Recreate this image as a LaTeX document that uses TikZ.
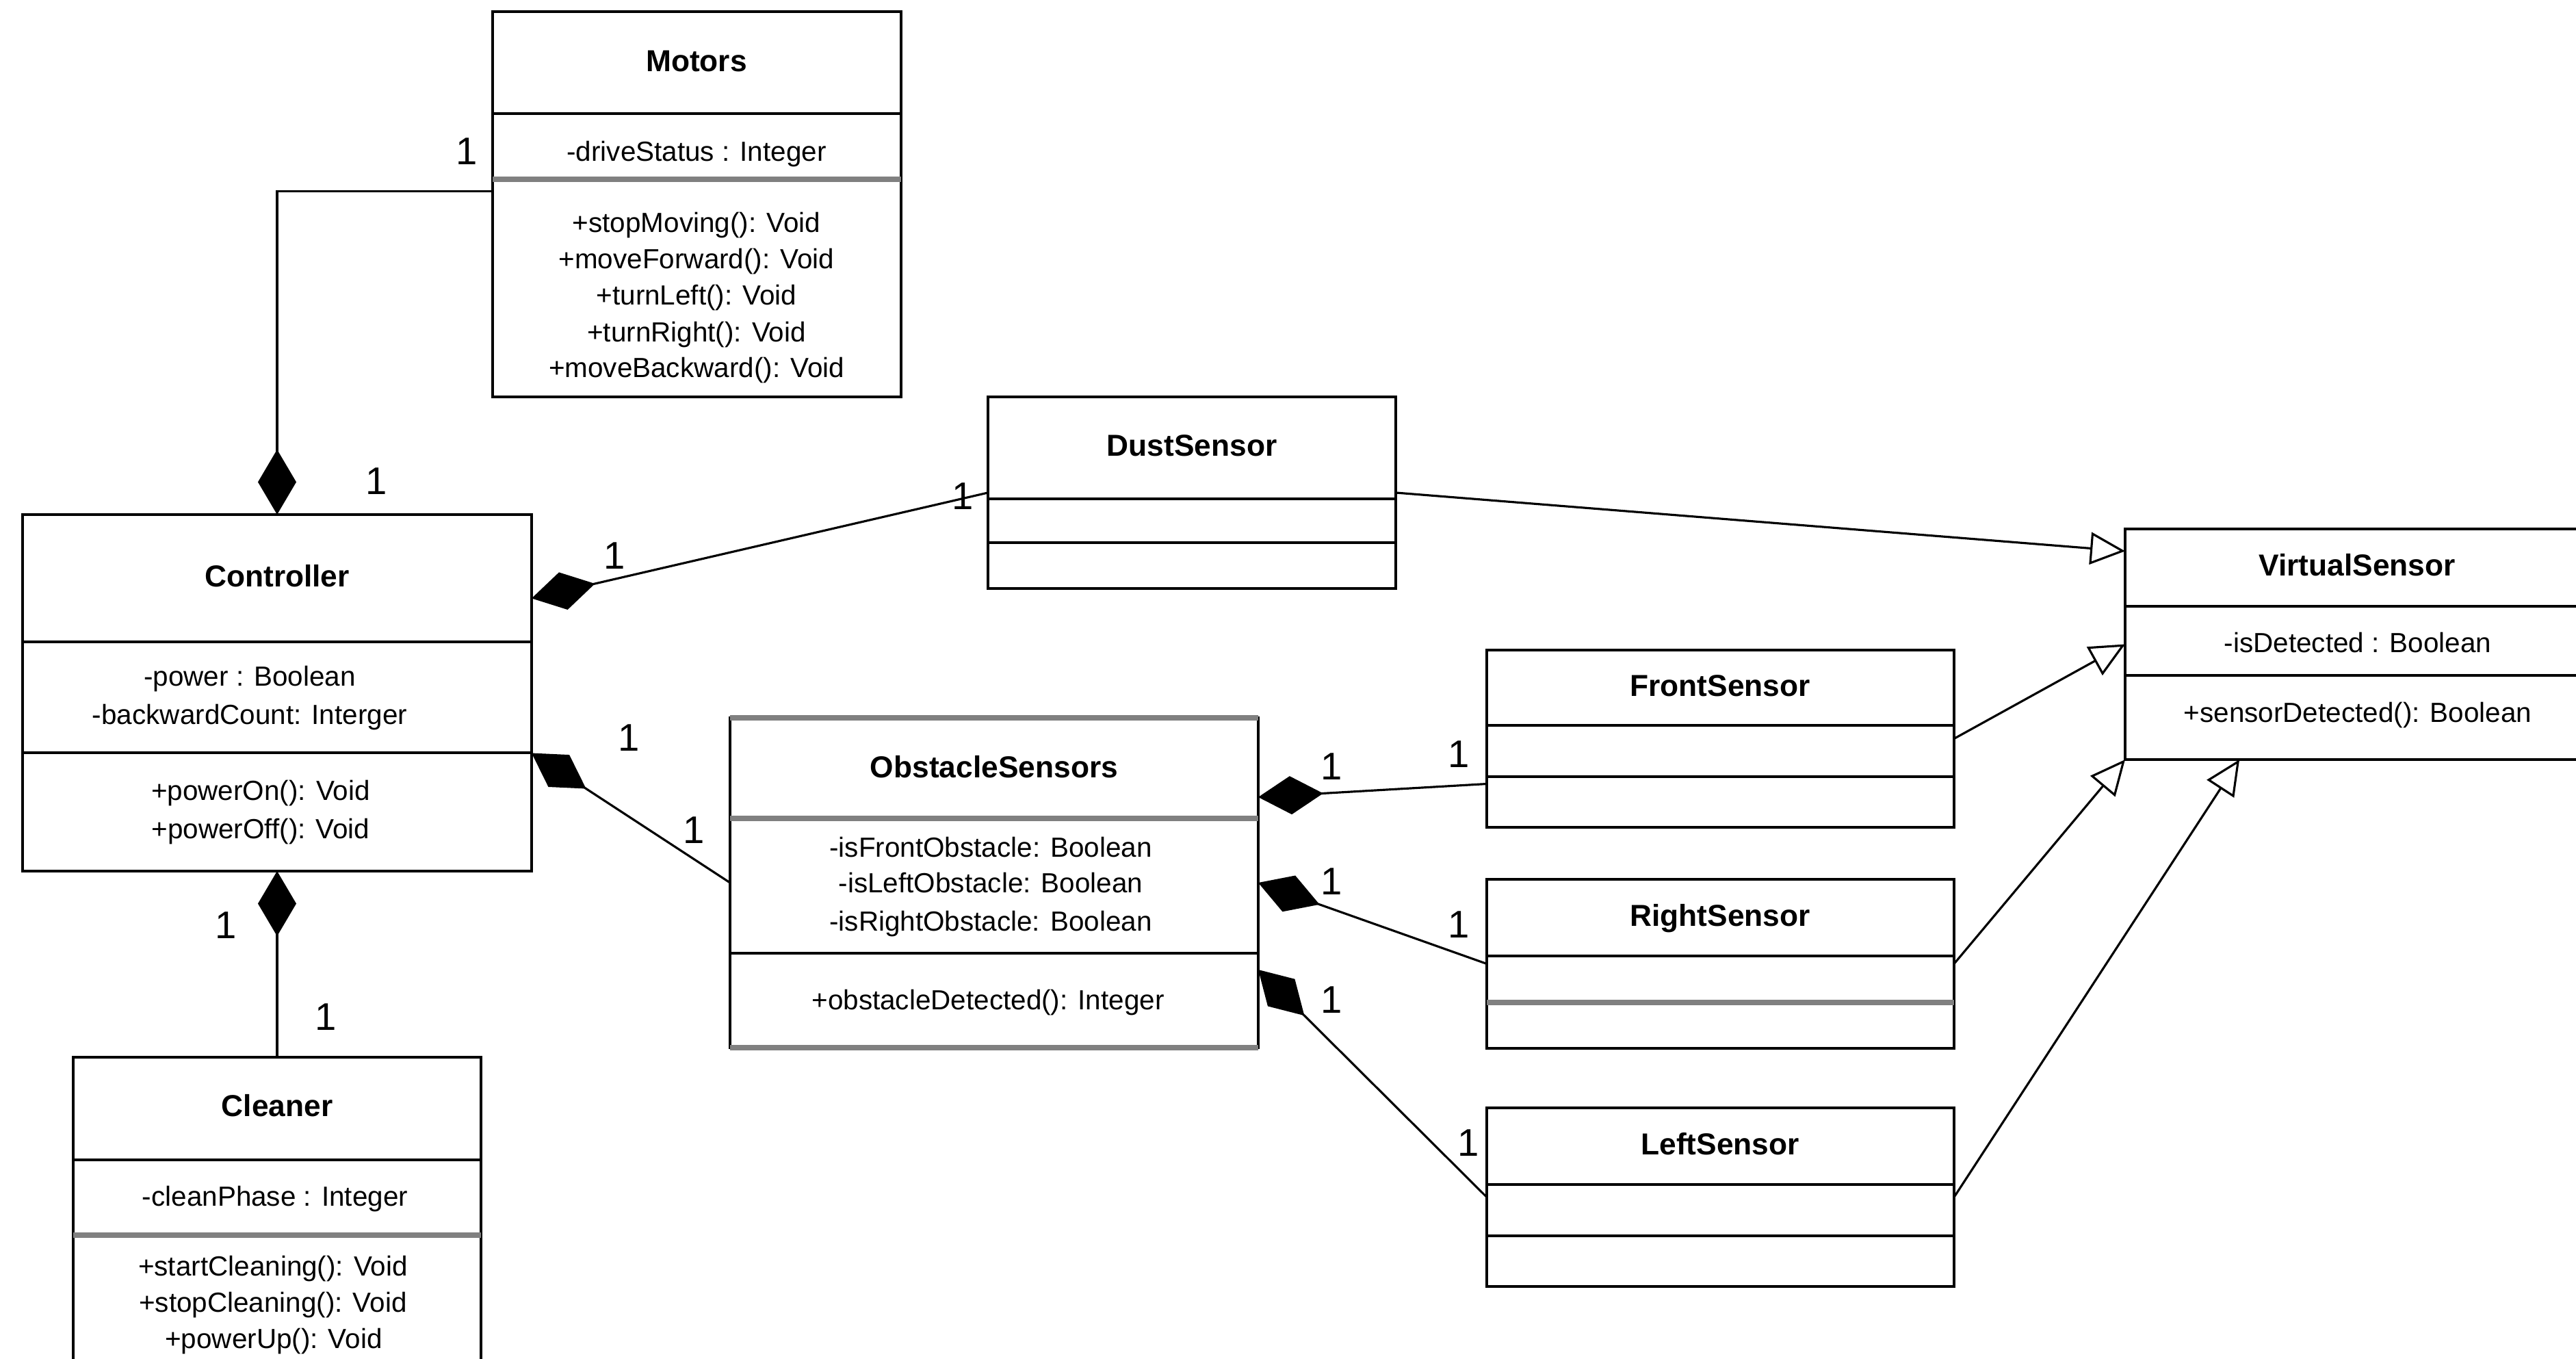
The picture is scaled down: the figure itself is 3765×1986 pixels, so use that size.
\documentclass[tikz,border=0pt]{standalone}
\usepackage{fontspec}
\setmainfont{Liberation Sans}
\usetikzlibrary{arrows.meta,calc}

\tikzset{
  classframe/.style={draw=black, line width=1.2pt, fill=white, inner sep=0pt, outer sep=0pt},
  blacksep/.style={line width=1.2pt},
  graysep/.style={line width=2.3pt, draw=black!50},
  clsname/.style={font=\fontsize{12.6}{15}\selectfont\bfseries, anchor=base, inner sep=0pt},
  clsmember/.style={font=\fontsize{11.5}{14}\selectfont, anchor=base, inner sep=0pt},
  multlabel/.style={font=\fontsize{16}{19}\selectfont, anchor=base, inner sep=0pt},
  umllink/.style={line width=0.9pt},
  compo/.style={umllink, {Diamond[length=0.95cm,width=0.56cm]}-},
  generalize/.style={umllink, -{Triangle[open,length=0.51cm,width=0.47cm,fill=white]}},
}

% class frame: name, left, top, right, bottom (pixel-like units)
\newcommand\umlclass[5]{%
  \node[classframe, minimum width={(#4-#2)*0.01cm}, minimum height={(#5-#3)*0.01cm}]
    (#1) at ({(#2+#4)/2},{(#3+#5)/2}) {};}
% compartment separator inside a class frame
\newcommand\compsep[3][blacksep]{%
  \draw[#1] (#2.west |- 0,#3) -- (#2.east |- 0,#3);}

\begin{document}
\begin{tikzpicture}[x=0.01cm, y=-0.01cm]
  \useasboundingbox (0,0) rectangle (3765,1986);
  \fill[white] (0,0) rectangle (3765,1986);
  \clip (0,0) rectangle (3765,1986);

  % ---- classes ----
  \umlclass{motors}{720}{17}{1317}{580}
  \compsep{motors}{166}
  \compsep[graysep]{motors}{262}
  \node[clsname]   (motorsT)  at (1018,105) {Motors};
  \node[clsmember] (motorsA1) at (1018,236) {-driveStatus : Integer};
  \node[clsmember] (motorsO1) at (1018,340) {+stopMoving(): Void};
  \node[clsmember] (motorsO2) at (1018,393) {+moveForward(): Void};
  \node[clsmember] (motorsO3) at (1018,446) {+turnLeft(): Void};
  \node[clsmember] (motorsO4) at (1018,500) {+turnRight(): Void};
  \node[clsmember] (motorsO5) at (1018,552) {+moveBackward(): Void};

  \umlclass{ctrl}{33}{752}{777}{1273}
  \compsep{ctrl}{938}
  \compsep{ctrl}{1100}
  \node[clsname]   (ctrlT)  at (405,858) {Controller};
  \node[clsmember] (ctrlA1) at (365,1003) {-power : Boolean};
  \node[clsmember] (ctrlA2) at (365,1059) {-backwardCount: Interger};
  \node[clsmember] (ctrlO1) at (381,1170) {+powerOn(): Void};
  \node[clsmember] (ctrlO2) at (381,1226) {+powerOff(): Void};

  \umlclass{cleaner}{107}{1545}{703}{2010}
  \compsep{cleaner}{1695}
  \compsep[graysep]{cleaner}{1805}
  \node[clsname]   (cleanerT)  at (405,1632) {Cleaner};
  \node[clsmember] (cleanerA1) at (402,1763) {-cleanPhase : Integer};
  \node[clsmember] (cleanerO1) at (399,1864) {+startCleaning(): Void};
  \node[clsmember] (cleanerO2) at (399,1917) {+stopCleaning(): Void};
  \node[clsmember] (cleanerO3) at (400,1971) {+powerUp(): Void};

  \umlclass{dust}{1444}{580}{2040}{860}
  \compsep{dust}{729}
  \compsep{dust}{793}
  \node[clsname] (dustT) at (1742,667) {DustSensor};

  \umlclass{obst}{1067}{1049}{1839}{1531}
  \draw[graysep] (obst.north west) -- (obst.north east);
  \draw[graysep] (obst.south west) -- (obst.south east);
  \compsep[graysep]{obst}{1196}
  \compsep{obst}{1393}
  \node[clsname]   (obstT)  at (1453,1137) {ObstacleSensors};
  \node[clsmember] (obstA1) at (1448,1253) {-isFrontObstacle: Boolean};
  \node[clsmember] (obstA2) at (1448,1305) {-isLeftObstacle: Boolean};
  \node[clsmember] (obstA3) at (1448,1361) {-isRightObstacle: Boolean};
  \node[clsmember] (obstO1) at (1444,1476) {+obstacleDetected(): Integer};

  \umlclass{frontS}{2173}{950}{2856}{1209}
  \compsep{frontS}{1060}
  \compsep{frontS}{1135}
  \node[clsname] (frontT) at (2514,1018) {FrontSensor};

  \umlclass{rightS}{2173}{1285}{2856}{1532}
  \compsep{rightS}{1397}
  \compsep[graysep]{rightS}{1465}
  \node[clsname] (rightT) at (2514,1354) {RightSensor};

  \umlclass{leftS}{2173}{1619}{2856}{1880}
  \compsep{leftS}{1731}
  \compsep{leftS}{1806}
  \node[clsname] (leftT) at (2514,1688) {LeftSensor};

  \umlclass{virt}{3106}{773}{3783}{1110}
  \compsep{virt}{886}
  \compsep{virt}{987}
  \node[clsname]   (virtT)  at (3445,842) {VirtualSensor};
  \node[clsmember] (virtA1) at (3446,954) {-isDetected : Boolean};
  \node[clsmember] (virtO1) at (3446,1056) {+sensorDetected(): Boolean};

  % ---- compositions ----
  \draw[compo] (ctrl.north) |- ([yshift=0.19cm]motors.west);
  \draw[compo] ([yshift=1.38cm]ctrl.east) -- (dust.west);
  \draw[compo] ([yshift=-0.88cm]ctrl.east) -- (obst.west);
  \draw[compo] (ctrl.south) -- (cleaner.north);
  \draw[compo] ([yshift=1.25cm]obst.east) -- ([yshift=-0.66cm]frontS.west);
  \draw[compo] (obst.east) -- (rightS.west);
  \draw[compo] ([yshift=-1.27cm]obst.east) -- (leftS.west);

  % ---- generalizations ----
  \draw[generalize] (dust.east) -- ([yshift=1.36cm]virt.west);
  \draw[generalize] (frontS.east) -- (virt.west);
  \draw[generalize] (rightS.east) -- (virt.south west);
  \draw[generalize] (leftS.east) -- ([xshift=1.67cm]virt.south west);

  % ---- multiplicities ----
  \node[multlabel] (mul1)  at (682,241)  {1};
  \node[multlabel] (mul2)  at (550,723)  {1};
  \node[multlabel] (mul3)  at (898,832)  {1};
  \node[multlabel] (mul4)  at (1407,745) {1};
  \node[multlabel] (mul5)  at (919,1098) {1};
  \node[multlabel] (mul6)  at (1014,1233) {1};
  \node[multlabel] (mul7)  at (330,1372) {1};
  \node[multlabel] (mul8)  at (476,1506) {1};
  \node[multlabel] (mul9)  at (1946,1140) {1};
  \node[multlabel] (mul10) at (2132,1122) {1};
  \node[multlabel] (mul11) at (1946,1308) {1};
  \node[multlabel] (mul12) at (2132,1371) {1};
  \node[multlabel] (mul13) at (1946,1481) {1};
  \node[multlabel] (mul14) at (2146,1690) {1};
\end{tikzpicture}
\end{document}
